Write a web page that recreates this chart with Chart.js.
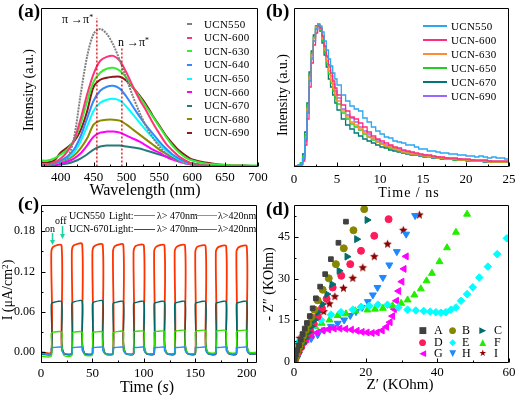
<!DOCTYPE html>
<html>
<head>
<meta charset="utf-8">
<script src="https://cdn.jsdelivr.net/npm/chart.js@4/dist/chart.umd.min.js"></script>
<style>
    html, body { margin: 0; padding: 0; background: #fff; }
    body { width: 522px; height: 395px; position: relative; overflow: hidden;
           font-family: "Liberation Serif", "Times New Roman", serif; color: #000; }
    .panel { position: absolute; }
    .panel canvas { display: block; }
    .lab { position: absolute; white-space: nowrap; line-height: 1; }
    .rot { position: absolute; white-space: nowrap; line-height: 1; transform: translate(-50%, -50%) rotate(-90deg); }
    .ctr { position: absolute; white-space: nowrap; line-height: 1; transform: translate(-50%, -50%); }
    .tag { font-size: 19px; font-weight: bold; }
    sup { font-size: 0.65em; vertical-align: 0.45em; line-height: 0; }
    .mk { position: absolute; }
</style>
</head>
<body>

<div class="panel" style="left:0;top:0"><canvas id="chart-pl" width="275" height="200"></canvas></div>
<div class="panel" style="left:261px;top:0"><canvas id="chart-trpl" width="261" height="200"></canvas></div>
<div class="panel" style="left:0;top:195px"><canvas id="chart-photo" width="261" height="200"></canvas></div>
<div class="panel" style="left:261px;top:195px"><canvas id="chart-eis" width="261" height="200"></canvas></div>

<div class="lab tag" style="left:18px;top:1px">(a)</div>
<div class="lab tag" style="left:266px;top:1px">(b)</div>
<div class="lab tag" style="left:18px;top:194px">(c)</div>
<div class="lab tag" style="left:266px;top:199px">(d)</div>

<div class="lab" style="left:62px;top:13px;font-size:12px">π →π<sup>*</sup></div>
<div class="lab" style="left:118px;top:36px;font-size:12px">n →π<sup>*</sup></div>

<div class="ctr" style="left:145px;top:190px;font-size:16px">Wavelength (nm)</div>
<div class="rot" style="left:29px;top:90px;font-size:14px">Intensity (a.u.)</div>
<div class="ctr" style="left:409px;top:193px;font-size:14px;letter-spacing:1px">Time / ns</div>
<div class="rot" style="left:283px;top:95px;font-size:14px">Intensity (a.u.)</div>
<div class="ctr" style="left:147px;top:387px;font-size:16px">Time (<i>s</i>)</div>
<div class="rot" style="left:8px;top:290px;font-size:14px">I (μA/cm<sup>2</sup>)</div>
<div class="ctr" style="left:400px;top:384px;font-size:15px">Z′ (KOhm)</div>
<div class="rot" style="left:269px;top:284px;font-size:14px">- Z″ (KOhm)</div>

<div class="lab" style="left:45px;top:224px;font-size:10px">on</div>
<div class="lab" style="left:55px;top:216px;font-size:10px">off</div>
<svg class="mk" style="left:0;top:0" width="522" height="395">
    <g stroke="#19d6a0" fill="#19d6a0" stroke-width="1.5">
        <line x1="52.5" y1="233" x2="52.5" y2="243"/>
        <polygon points="50,240 55,240 52.5,245" stroke="none"/>
        <line x1="62.5" y1="226" x2="62.5" y2="237"/>
        <polygon points="60,234 65,234 62.5,239" stroke="none"/>
    </g>
</svg>

<div id="legend-pl"></div>
<div id="legend-trpl"></div>
<div id="legend-photo"></div>
<div id="legend-eis"></div>

<script>
// ---------- (a) steady-state PL ----------
const wavelengths = [370, 380, 390, 400, 410, 420, 430, 440, 450, 460, 470, 480, 490, 500, 510,
                     520, 530, 540, 550, 560, 570, 580, 590, 600, 620, 640, 660, 680, 700];
const plLabels = ['UCN550', 'UCN-600', 'UCN-630', 'UCN-640', 'UCN-650', 'UCN-660', 'UCN-670', 'UCN-680', 'UCN-690'];
const plColors = ['#808080', '#ff3377', '#33ee33', '#3388ff', '#00ffff', '#ff00ff', '#267a7a', '#8b8b00', '#8b1a1a'];
const pl550 = [2, 2, 3, 5, 8, 28, 71, 110, 133, 138, 133, 122, 106, 88, 70, 54, 40, 29, 20, 13, 8, 5, 3, 2, 1, 0, 0, 0, 0];
const pl600 = [2, 2, 4, 8, 15, 26, 47, 72, 93, 106, 110, 111, 106, 94, 80, 67, 56, 44, 33, 23, 16, 10, 6, 3, 1, 0, 0, 0, 0];
const pl630 = [6, 6, 8, 12, 17, 26, 42, 65, 85, 94, 98, 99, 96, 89, 79, 70, 60, 50, 40, 30, 21, 14, 9, 6, 3, 2, 1, 1, 1];
const pl640 = [2, 2, 3, 6, 10, 17, 30, 48, 66, 76, 80, 81, 78, 70, 60, 50, 41, 33, 25, 18, 12, 8, 5, 3, 1, 1, 0, 0, 0];
const pl650 = [2, 2, 3, 5, 8, 14, 25, 40, 56, 64, 67, 68, 66, 60, 52, 44, 36, 29, 22, 16, 11, 7, 4, 3, 1, 1, 0, 0, 0];
const pl660 = [1, 1, 2, 3, 5, 8, 13, 21, 30, 34, 35, 35, 34, 31, 28, 25, 21, 17, 14, 10, 7, 5, 3, 2, 1, 0, 0, 0, 0];
const pl670 = [1, 1, 1, 2, 3, 5, 8, 12, 17, 20, 21, 21, 21, 20, 19, 18, 16, 14, 12, 10, 8, 6, 4, 3, 1, 1, 0, 0, 0];
const pl680 = [2, 2, 3, 5, 7, 11, 18, 28, 42, 46, 47, 47, 46, 42, 37, 32, 27, 22, 17, 13, 9, 6, 4, 3, 1, 1, 0, 0, 0];
const pl690 = [4, 4, 6, 14, 19, 25, 36, 55, 80, 87, 89, 90, 90, 86, 79, 71, 62, 51, 41, 31, 23, 16, 11, 7, 4, 2, 1, 1, 0];
const plSeries = [pl550, pl600, pl630, pl640, pl650, pl660, pl670, pl680, pl690];
const peakLines = [455, 493];
const peakTops  = [149, 119];
const plTicks      = [400, 450, 500, 550, 600, 650, 700];
const plMinorTicks = [375, 425, 475, 525, 575, 625, 675];

// ---------- (b) TRPL decay ----------
const decayTimes = [0, 0.25, 0.5, 0.75, 1, 1.25, 1.5, 1.75, 2, 2.25, 2.5, 2.75, 3, 3.25, 3.5, 3.75, 4, 4.25, 4.5, 4.75, 5,
                    5.5, 6, 6.5, 7, 7.5, 8, 8.5, 9, 9.5, 10, 10.5, 11, 11.5, 12, 12.5, 13, 13.5, 14, 14.5, 15,
                    15.5, 16, 16.5, 17, 17.5, 18, 18.5, 19, 19.5, 20, 20.5, 21, 21.5, 22, 22.5, 23, 23.5, 24, 24.5, 25];
const trLabels = ['UCN550', 'UCN-600', 'UCN-630', 'UCN-650', 'UCN-670', 'UCN-690'];
const trColors = ['#2aa7f0', '#ff2d7d', '#ff8c33', '#22cc22', '#007777', '#9966ff'];
const tr550 = [1, 1, 2, 3, 9, 28, 55, 86, 108, 126, 138, 143, 141, 135, 126, 117, 108, 101, 94, 88, 82,
               72, 66, 61, 58, 56, 49, 45, 40, 36, 33, 30, 29, 26, 25, 24, 22, 22, 20, 18, 18,
               16, 16, 15, 14, 14, 13, 13, 12, 12, 11, 11, 10, 11, 10, 9, 10, 9, 9, 8, 8];
const tr600 = [1, 1, 1, 2, 6, 22, 48, 80, 104, 122, 134, 141, 139, 131, 121, 111, 102, 94, 86, 79, 72,
               62, 56, 50, 48, 44, 40, 35, 31, 28, 26, 24, 22, 20, 19, 17, 16, 15, 14, 13, 12,
               12, 11, 10, 10, 9, 9, 9, 8, 8, 8, 7, 7, 7, 7, 6, 6, 6, 6, 6, 5];
const tr630 = [1, 1, 2, 3, 9, 28, 58, 90, 112, 129, 140, 143, 138, 128, 117, 106, 96, 87, 79, 72, 66,
               56, 50, 45, 42, 38, 34, 31, 28, 25, 23, 21, 20, 18, 17, 15, 14, 13, 13, 12, 11,
               10, 10, 9, 9, 8, 8, 8, 7, 7, 7, 6, 6, 6, 6, 5, 5, 5, 5, 5, 4];
const tr650 = [1, 1, 2, 4, 11, 32, 62, 93, 114, 130, 140, 142, 137, 126, 114, 103, 93, 84, 76, 69, 63,
               54, 48, 43, 40, 37, 33, 30, 27, 25, 23, 21, 19, 18, 16, 15, 14, 13, 12, 12, 11,
               10, 10, 9, 9, 8, 8, 7, 7, 7, 7, 6, 6, 6, 6, 5, 5, 5, 5, 5, 4];
const tr670 = [1, 1, 2, 4, 13, 35, 64, 95, 116, 132, 141, 142, 136, 124, 112, 100, 88, 80, 72, 64, 57,
               48, 42, 38, 34, 31, 28, 26, 24, 22, 20, 19, 17, 16, 15, 14, 13, 12, 12, 11, 10,
               10, 9, 9, 8, 8, 8, 7, 7, 7, 6, 6, 6, 6, 5, 5, 5, 5, 5, 5, 5];
const tr690 = [1, 1, 1, 3, 8, 26, 54, 86, 109, 126, 138, 142, 139, 130, 120, 110, 100, 91, 83, 76, 69,
               58, 52, 49, 45, 40, 36, 33, 29, 27, 24, 22, 21, 19, 18, 16, 15, 14, 13, 12, 12,
               11, 10, 10, 9, 9, 8, 8, 8, 7, 7, 7, 6, 6, 6, 6, 5, 5, 5, 5, 5];
const trSeries = [tr550, tr600, tr630, tr650, tr670, tr690];
const trTicks      = [0, 5, 10, 15, 20, 25];
const trMinorTicks = [2.5, 7.5, 12.5, 17.5, 22.5];

// ---------- (c) transient photocurrent ----------
const cycleOn  = [10, 30, 50, 70, 90, 110, 130, 150, 170, 190];
const cycleOff = [20, 40, 60, 80, 100, 120, 140, 160, 180, 200];
const photoLabels = ['UCN550 λ>470nm', 'UCN550 λ>420nm', 'UCN-670 λ>470nm', 'UCN-670 λ>420nm'];
const photoColors = ['#1e90ff', '#33e000', '#006666', '#ff3300'];
const photoDark  = [-0.002, -0.006, -0.003, 0.000];
// per cycle: level just after switching on, level 2 s later, level at switch-off, spike at off, dark level
const b470Start = [0.006, 0.006, 0.006, 0.006, 0.007, 0.007, 0.007, 0.007, 0.007, 0.007];
const b470Knee  = [0.007, 0.007, 0.007, 0.007, 0.007, 0.007, 0.007, 0.007, 0.007, 0.007];
const b470Top   = [0.0075, 0.0075, 0.0075, 0.0075, 0.0075, 0.0075, 0.0075, 0.0075, 0.0075, 0.0075];
const b470Tail  = [0.003, 0.003, 0.003, 0.003, 0.003, 0.003, 0.003, 0.003, 0.003, 0.003];
const b470Base  = [-0.002, -0.002, -0.002, -0.002, -0.002, -0.002, -0.002, -0.002, -0.002, -0.002];
const g420Start = [0.028, 0.028, 0.029, 0.029, 0.029, 0.030, 0.030, 0.030, 0.030, 0.030];
const g420Knee  = [0.030, 0.030, 0.030, 0.030, 0.031, 0.031, 0.032, 0.032, 0.032, 0.032];
const g420Top   = [0.030, 0.030, 0.030, 0.031, 0.031, 0.031, 0.032, 0.032, 0.032, 0.032];
const g420Tail  = [0.012, 0.012, 0.012, 0.012, 0.012, 0.012, 0.012, 0.012, 0.012, 0.012];
const g420Base  = [-0.005, -0.004, -0.003, -0.002, -0.001, -0.001, -0.001, 0.000, 0.000, 0.000];
const t470Start = [0.071, 0.072, 0.072, 0.072, 0.072, 0.072, 0.072, 0.072, 0.072, 0.072];
const t470Knee  = [0.074, 0.075, 0.075, 0.074, 0.074, 0.074, 0.074, 0.074, 0.074, 0.074];
const t470Top   = [0.075, 0.076, 0.076, 0.075, 0.075, 0.075, 0.075, 0.075, 0.075, 0.075];
const t470Tail  = [0.018, 0.020, 0.020, 0.018, 0.018, 0.018, 0.018, 0.018, 0.018, 0.018];
const t470Base  = [-0.002, -0.002, -0.002, -0.002, -0.002, -0.002, -0.002, -0.002, -0.002, -0.002];
const r420Start = [0.148, 0.150, 0.149, 0.150, 0.150, 0.150, 0.150, 0.149, 0.149, 0.149];
const r420Knee  = [0.157, 0.159, 0.158, 0.158, 0.158, 0.157, 0.157, 0.157, 0.156, 0.156];
const r420Top   = [0.159, 0.161, 0.160, 0.160, 0.159, 0.159, 0.159, 0.158, 0.158, 0.158];
const r420Tail  = [0.010, 0.010, 0.010, 0.010, 0.010, 0.010, 0.010, 0.010, 0.010, 0.010];
const r420Base  = [-0.002, -0.002, -0.002, -0.002, -0.002, -0.002, -0.002, -0.002, -0.002, -0.002];
const photoTicks      = [0, 50, 100, 150, 200];
const photoMinorTicks = [25, 75, 125, 175];
const currentTicks      = [0, 0.06, 0.12, 0.18];
const currentMinorTicks = [0.03, 0.09, 0.15, 0.21];

// ---------- (d) Nyquist plots [Z', -Z''] in kOhm ----------
const eisLabels = ['A', 'B', 'C', 'D', 'E', 'F', 'G', 'H', 'I'];
const eisColors = ['#404040', '#868600', '#006c6c', '#ff1a5a', '#00ffff', '#22ee00', '#ff00ff', '#1e88ff', '#8b0000'];
const eisA = [[14.5, 50.5], [12.4, 42.9], [10.3, 37.0], [8.7, 31.6], [7.3, 27.1], [6.1, 22.9], [5.2, 19.3], [4.4, 16.5],
              [3.6, 14.0], [3.0, 12.0], [2.4, 10.0], [1.9, 8.0], [1.4, 6.0], [0.9, 4.2], [0.5, 2.6], [0.2, 1.2], [0.05, 0.4]];
const eisB = [[19.6, 55.0], [16.6, 47.4], [13.9, 40.9], [11.7, 35.2], [9.7, 30.1], [8.0, 26.0], [6.6, 22.2], [5.7, 18.8],
              [4.8, 16.1], [4.0, 13.6], [3.3, 11.5], [2.6, 9.4], [2.0, 7.4], [1.5, 5.6], [1.0, 3.9], [0.6, 2.4], [0.3, 1.2], [0.1, 0.4]];
const eisC = [[20.4, 51.1], [17.5, 44.2], [14.8, 37.9], [12.6, 32.8], [10.6, 28.0], [9.2, 24.4], [7.9, 20.8], [6.7, 17.9],
              [5.7, 15.1], [4.8, 12.8], [4.0, 10.7], [3.2, 8.7], [2.5, 6.8], [1.8, 5.0], [1.2, 3.4], [0.7, 2.0], [0.3, 0.9], [0.1, 0.3]];
const eisD = [[26.4, 51.4], [22.4, 45.4], [18.7, 40.0], [15.7, 35.2], [13.2, 31.0], [10.8, 26.8], [9.1, 22.7], [7.8, 19.3],
              [6.6, 16.3], [5.5, 13.7], [4.5, 11.3], [3.6, 9.2], [2.8, 7.2], [2.0, 5.3], [1.3, 3.6], [0.8, 2.2], [0.4, 1.1], [0.1, 0.3]];
const eisE = [[59.4, 44.5], [56.7, 38.8], [54.1, 34.3], [51.7, 30.4], [49.9, 26.9], [48.3, 24.4], [46.6, 22.0], [45.2, 19.6],
              [43.8, 18.8], [42.4, 17.9], [41.0, 17.7], [39.6, 17.9], [38.0, 18.1], [36.2, 18.3], [34.0, 18.5], [31.7, 18.8],
              [29.1, 19.6], [26.1, 20.6], [23.4, 20.6], [21.0, 20.2], [18.7, 19.8], [16.4, 18.8], [13.1, 17.9], [10.3, 17.0],
              [7.5, 15.1], [5.7, 13.3], [3.8, 11.5], [2.4, 9.6], [1.3, 7.2], [0.6, 4.8], [0.2, 2.4]];
const eisF = [[48.3, 53.2], [45.2, 46.7], [42.7, 41.1], [40.6, 36.1], [38.5, 31.9], [37.0, 29.2], [35.4, 26.3], [33.6, 24.1],
              [31.7, 22.3], [29.9, 21.1], [27.5, 20.2], [24.8, 19.3], [22.6, 19.0], [20.5, 18.7], [17.1, 18.4], [14.5, 17.3],
              [12.2, 16.7], [9.9, 15.1], [7.7, 13.9], [5.9, 12.7], [4.3, 10.9], [2.9, 9.1], [1.8, 7.3], [0.9, 5.5], [0.3, 3.7], [0.1, 1.8]];
const eisG = [[31.3, 38.0], [30.7, 33.5], [30.1, 28.9], [29.2, 25.5], [28.6, 22.0], [28.0, 19.0], [27.5, 16.5], [26.8, 14.3],
              [25.8, 12.6], [24.6, 11.3], [23.2, 10.6], [21.8, 10.4], [20.4, 10.6], [19.0, 10.8], [17.6, 11.2], [16.0, 11.6],
              [14.4, 11.9], [12.8, 12.0], [11.2, 12.0], [9.6, 11.7], [8.0, 11.3], [6.5, 10.6], [5.0, 9.6], [3.6, 8.2],
              [2.4, 6.5], [1.3, 4.6], [0.5, 2.5], [0.1, 0.8]];
const eisH = [[33.8, 52.7], [31.3, 46.0], [28.7, 39.7], [26.6, 34.9], [24.8, 30.4], [23.3, 26.8], [22.0, 24.1], [20.6, 21.7],
              [19.0, 19.6], [17.3, 18.1], [15.7, 16.7], [14.0, 15.1], [12.2, 13.9], [10.3, 12.7], [8.5, 11.5], [6.6, 9.8],
              [4.8, 8.4], [2.9, 7.0], [1.5, 5.2], [0.6, 3.4], [0.1, 1.6]];
const eisI = [[35.0, 52.9], [30.5, 47.4], [26.1, 42.4], [22.4, 37.9], [19.2, 33.9], [16.4, 30.1], [13.8, 26.5], [11.4, 23.5],
              [9.9, 20.9], [8.3, 18.1], [6.6, 16.0], [5.2, 13.9], [3.8, 12.1], [2.7, 10.3], [1.6, 8.5], [1.0, 6.7],
              [0.5, 4.9], [0.3, 3.1], [0.1, 1.3]];
const eisSeries = [eisA, eisB, eisC, eisD, eisE, eisF, eisG, eisH, eisI];
const zReTicks      = [0, 20, 40, 60];
const zReMinorTicks = [10, 30, 50];
const zImTicks      = [0, 15, 30, 45];
const zImMinorTicks = [7.5, 22.5, 37.5, 52.5];

// ---------- chart plumbing ----------
Chart.defaults.font.family = '"Liberation Serif", "Times New Roman", serif';
Chart.defaults.color = '#000';
Chart.defaults.animation = false;

// box frame + inward major/minor ticks, like the original plotting software
const frameTicks = {
    id: 'frameTicks',
    afterDatasetsDraw(chart, args, o) {
        const { ctx, chartArea: a } = chart;
        const sx = chart.scales.x, sy = chart.scales.y;
        const L = Math.round(a.left) + 0.5, R = Math.round(a.right) - 0.5;
        const T = Math.round(a.top) + 0.5, B = Math.round(a.bottom) - 0.5;
        ctx.save();
        ctx.strokeStyle = '#000';
        ctx.lineWidth = 1;
        ctx.beginPath();
        ctx.rect(L, T, R - L, B - T);
        const mark = (vals, len, horiz) => (vals || []).forEach(v => {
            if (horiz) {
                const p = Math.round(sx.getPixelForValue(v)) + 0.5;
                ctx.moveTo(p, B); ctx.lineTo(p, B - len);
            } else {
                const p = Math.round(sy.getPixelForValue(v)) + 0.5;
                ctx.moveTo(L, p); ctx.lineTo(L + len, p);
            }
        });
        mark(o.xMajor, 4, true);  mark(o.xMinor, 2, true);
        mark(o.yMajor, 4, false); mark(o.yMinor, 2, false);
        ctx.stroke();
        ctx.restore();
    }
};
Chart.register(frameTicks);

function axis(opt) {
    const cfg = {
        type: 'linear',
        min: opt.min,
        max: opt.max,
        afterFit: s => {
            if (s.isHorizontal()) s.height = opt.size; else s.width = opt.size;
            s.paddingLeft = s.paddingRight = s.paddingTop = s.paddingBottom = 0;
        },
        grid:   { display: false, drawTicks: false },
        border: { display: false },
        ticks:  { display: !!opt.labels, padding: opt.pad || 3, font: { size: opt.fontSize || 13 },
                  maxRotation: 0, autoSkip: false, callback: opt.format || (v => v) },
    };
    if (opt.labels) cfg.afterBuildTicks = s => { s.ticks = opt.labels.map(v => ({ value: v })); };
    return cfg;
}

function baseOptions(pad, scales, frame) {
    return {
        responsive: false,
        animation: false,
        events: [],
        layout: { padding: pad, autoPadding: false },
        plugins: { legend: { display: false }, tooltip: { enabled: false }, frameTicks: frame },
        scales,
    };
}

const toXY = (xs, ys) => xs.map((x, i) => ({ x, y: ys[i] }));

// (a)
const plDatasets = plSeries.map((ys, i) => ({
    label: plLabels[i],
    data: toXY(wavelengths, ys),
    borderColor: plColors[i],
    borderWidth: 2,
    borderDash: i === 0 ? [2, 1] : [],
    pointRadius: 0,
    tension: 0.3,
    order: i === 0 ? 0 : 1,
}));
peakLines.forEach((w, i) => plDatasets.push({
    data: [{ x: w, y: 0 }, { x: w, y: peakTops[i] }],
    borderColor: '#e00000', borderWidth: 1.3, borderDash: [2, 2], pointRadius: 0, order: -1,
}));
new Chart(document.getElementById('chart-pl'), {
    type: 'line',
    data: { datasets: plDatasets },
    options: baseOptions({ top: 8, right: 17, left: 0, bottom: 0 }, {
        x: axis({ min: 370, max: 700, size: 33, labels: plTicks, pad: 2.5 }),
        y: axis({ min: -0.5, max: 159, size: 41 }),
    }, { xMajor: plTicks, xMinor: plMinorTicks }),
});

// (b)
new Chart(document.getElementById('chart-trpl'), {
    type: 'line',
    data: {
        datasets: trSeries.map((ys, i) => ({
            label: trLabels[i],
            data: toXY(decayTimes, ys),
            borderColor: trColors[i],
            borderWidth: 1.3,
            pointRadius: 0,
            stepped: true,
        })),
    },
    options: baseOptions({ top: 8, right: 13, left: 0, bottom: 0 }, {
        x: axis({ min: 0, max: 25, size: 33, labels: trTicks, pad: 5 }),
        y: axis({ min: 0, max: 159, size: 33 }),
    }, { xMajor: trTicks, xMinor: trMinorTicks }),
});

// (c)
function switchingCurve(dark, start, knee, top, tail, base) {
    const pts = [{ x: 0, y: dark }];
    let prev = dark;
    cycleOn.forEach((on, k) => {
        const off = cycleOff[k];
        pts.push({ x: on, y: prev }, { x: on, y: start[k] }, { x: on + 2, y: knee[k] },
                 { x: off, y: top[k] }, { x: off, y: tail[k] }, { x: off + 2.5, y: base[k] });
        prev = base[k];
    });
    pts.push({ x: 210, y: prev });
    return pts;
}
const photoCurves = [
    switchingCurve(photoDark[0], b470Start, b470Knee, b470Top, b470Tail, b470Base),
    switchingCurve(photoDark[1], g420Start, g420Knee, g420Top, g420Tail, g420Base),
    switchingCurve(photoDark[2], t470Start, t470Knee, t470Top, t470Tail, t470Base),
    switchingCurve(photoDark[3], r420Start, r420Knee, r420Top, r420Tail, r420Base),
];
new Chart(document.getElementById('chart-photo'), {
    type: 'line',
    data: {
        datasets: photoCurves.map((pts, i) => ({
            label: photoLabels[i],
            data: pts,
            borderColor: photoColors[i],
            borderWidth: i === 3 ? 1.8 : 1.4,
            pointRadius: 0,
            tension: 0.25,
        })),
    },
    options: baseOptions({ top: 10, right: 4, left: 0, bottom: 0 }, {
        x: axis({ min: 0, max: 210, size: 32, labels: photoTicks, pad: 3 }),
        y: axis({ min: -0.016, max: 0.219, size: 41, labels: currentTicks, pad: 6, fontSize: 12, format: v => v.toFixed(2) }),
    }, { xMajor: photoTicks, xMinor: photoMinorTicks, yMajor: currentTicks, yMinor: currentMinorTicks }),
});

// (d)
function starMarker(color, r) {
    const c = document.createElement('canvas');
    const s = Math.ceil(r * 2 + 2);
    c.width = c.height = s;
    const g = c.getContext('2d');
    g.fillStyle = color;
    g.beginPath();
    for (let i = 0; i < 10; i++) {
        const ang = -Math.PI / 2 + i * Math.PI / 5;
        const rr = i % 2 ? r * 0.45 : r;
        g.lineTo(s / 2 + rr * Math.cos(ang), s / 2 + rr * Math.sin(ang));
    }
    g.closePath();
    g.fill();
    return c;
}
const eisStyles = [
    { pointStyle: 'rect', radius: 3.3 },
    { pointStyle: 'circle', radius: 3.5 },
    { pointStyle: 'triangle', rotation: 90, radius: 4 },
    { pointStyle: 'circle', radius: 3.5 },
    { pointStyle: 'rectRot', radius: 3.8 },
    { pointStyle: 'triangle', radius: 4 },
    { pointStyle: 'triangle', rotation: -90, radius: 4 },
    { pointStyle: 'triangle', rotation: 180, radius: 4 },
    { pointStyle: starMarker(eisColors[8], 4.5), radius: 4.5 },
];
new Chart(document.getElementById('chart-eis'), {
    type: 'scatter',
    data: {
        datasets: eisSeries.map((pts, i) => ({
            label: eisLabels[i],
            data: pts.map(p => ({ x: p[0], y: p[1] })),
            pointStyle: eisStyles[i].pointStyle,
            rotation: eisStyles[i].rotation || 0,
            pointRadius: eisStyles[i].radius,
            backgroundColor: eisColors[i],
            borderColor: eisColors[i],
            borderWidth: 1,
        })),
    },
    options: baseOptions({ top: 10, right: 13, left: 0, bottom: 0 }, {
        x: axis({ min: 0, max: 60, size: 32, labels: zReTicks, pad: 2 }),
        y: axis({ min: -0.4, max: 56.5, size: 33, labels: zImTicks, pad: 4, fontSize: 12 }),
    }, { xMajor: zReTicks, xMinor: zReMinorTicks, yMajor: zImTicks, yMinor: zImMinorTicks }),
});

// ---------- legends (html) ----------
function addText(root, text, left, top, size, extra) {
    const d = document.createElement('div');
    d.className = 'lab';
    d.style.cssText = `left:${left}px;top:${top}px;font-size:${size}px;` + (extra || '');
    d.textContent = text;
    root.appendChild(d);
    return d;
}
function addBox(root, color, left, top, w, h) {
    const d = document.createElement('div');
    d.className = 'mk';
    d.style.cssText = `left:${left}px;top:${top}px;width:${w}px;height:${h}px;background:${color}`;
    root.appendChild(d);
}

const legPl = document.getElementById('legend-pl');
plLabels.forEach((name, i) => {
    const cy = 24.3 + i * 13.55;
    addBox(legPl, plColors[i], 187, cy - 1, 5, 2);
    addText(legPl, name, 204, cy - 5.5, 11, 'letter-spacing:0.3px');
});

const legTr = document.getElementById('legend-trpl');
trLabels.forEach((name, i) => {
    const cy = 26 + i * 14;
    addBox(legTr, trColors[i], 423, cy - 1, 24, 1.5);
    addText(legTr, name, 451, cy - 5.5, 11, 'letter-spacing:0.3px');
});

const legPh = document.getElementById('legend-photo');
[['UCN550', 215.7, 0, 1], ['UCN-670', 229, 2, 3]].forEach(([name, cy, a, b]) => {
    addText(legPh, name, 69, cy - 5, 10);
    addText(legPh, 'Light:', 109, cy - 5, 10);
    addBox(legPh, photoColors[a], 134, cy - 0.5, 21, 1.3);
    addText(legPh, 'λ> 470nm', 157, cy - 5, 10);
    addBox(legPh, photoColors[b], 195, cy - 0.5, 22, 1.3);
    addText(legPh, 'λ>420nm', 218, cy - 5, 10);
});

const eisGlyphs = ['■', '●', '▶', '●', '◆', '▲', '◀', '▼', '★'];
const legEis = document.getElementById('legend-eis');
eisLabels.forEach((name, i) => {
    const col = i % 3, row = Math.floor(i / 3);
    const cx = [422.7, 452.7, 482.7][col], tx = [434, 462, 494][col];
    const cy = 330 + row * 11.7;
    addText(legEis, eisGlyphs[i], cx, cy, 9, `color:${eisColors[i]};font-family:"DejaVu Sans";transform:translate(-50%,-50%)`);
    addText(legEis, name, tx, cy - 6, 12);
});
</script>
</body>
</html>
